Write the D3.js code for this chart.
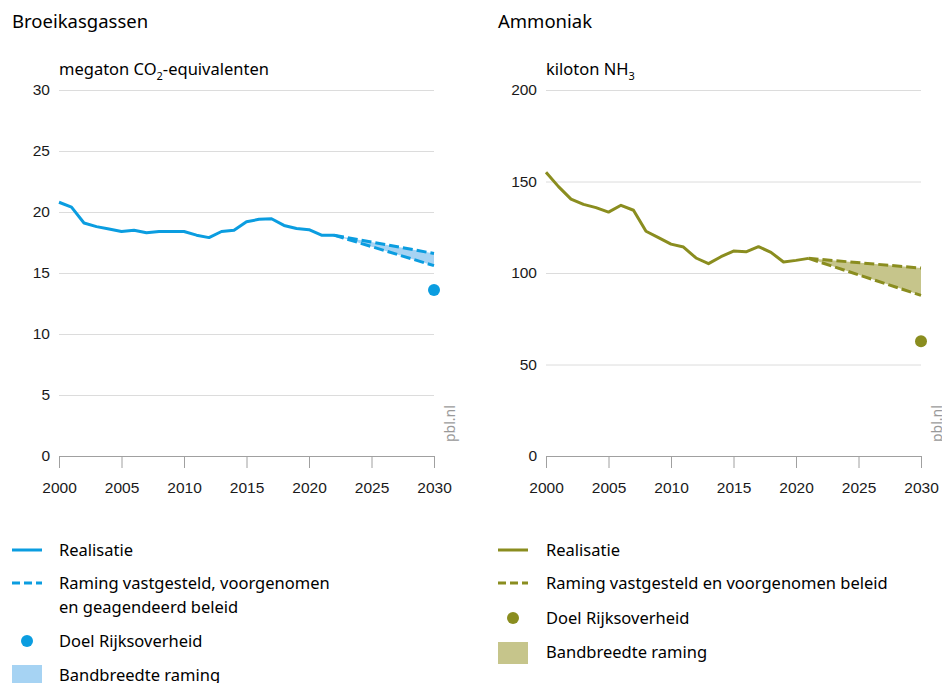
<!DOCTYPE html>
<html>
<head>
<meta charset="utf-8">
<script src="https://cdn.jsdelivr.net/npm/d3@7"></script>
<style>
  body { margin: 0; background: #fff; }
  svg { font-family: "Noto Sans", sans-serif; color: #1a1a1a; }
  .grid line { stroke: #dcdcdc; }
  .tick text { font-size: 15.5px; fill: #1a1a1a; }
</style>
</head>
<body>
<div id="chart"></div>
<script>
// greenhouse gases, megaton CO2-eq
var ghgYears = [2000, 2001, 2002, 2003, 2004, 2005, 2006, 2007, 2008, 2009, 2010, 2011,
                2012, 2013, 2014, 2015, 2016, 2017, 2018, 2019, 2020, 2021, 2022];
var ghgReal = [20.8, 20.4, 19.1, 18.8, 18.6, 18.4, 18.5, 18.3, 18.4, 18.4, 18.4, 18.1,
               17.9, 18.4, 18.5, 19.2, 19.4, 19.45, 18.9, 18.65, 18.55, 18.1, 18.1];
var ghgProjYears = [2022, 2030];
var ghgProjHigh = [18.1, 16.6];
var ghgProjLow = [18.1, 15.6];
var ghgGoal = {year: 2030, value: 13.6};
var ghgTicks = [0, 5, 10, 15, 20, 25, 30];

// ammonia, kiloton NH3
var nh3Years = [2000, 2001, 2002, 2003, 2004, 2005, 2006, 2007, 2008, 2009, 2010,
                2011, 2012, 2013, 2014, 2015, 2016, 2017, 2018, 2019, 2020, 2021];
var nh3Real = [155, 147.2, 140.4, 137.5, 135.7, 133.3, 137, 134.3, 122.8, 119.3, 115.8,
               114.2, 108.2, 105.1, 108.9, 112, 111.6, 114.4, 111.3, 106, 106.9, 108];
var nh3ProjYears = [2021, 2030];
var nh3ProjHigh = [108, 102.7];
var nh3ProjLow = [108, 87.8];
var nh3Goal = {year: 2030, value: 62.7};
var nh3Ticks = [0, 50, 100, 150, 200];

var xTicks = [2000, 2005, 2010, 2015, 2020, 2025, 2030];

var width = 942, height = 683;
var svg = d3.select("#chart").append("svg")
    .attr("width", width)
    .attr("height", height);

function drawPanel(p) {
  var g = svg.append("g");
  var x = d3.scaleLinear().domain([2000, 2030]).range([p.left, p.left + 375]);
  var y = d3.scaleLinear().domain([0, p.max]).range([456, 90]);

  g.append("text")
      .attr("x", p.titleX).attr("y", 28)
      .style("font-size", "18.5px")
      .text(p.title);

  var unit = g.append("text")
      .attr("x", p.left).attr("y", 75)
      .style("font-size", "16.5px");
  unit.append("tspan").text(p.unit[0]);
  unit.append("tspan").attr("dy", 5).style("font-size", "11px").text(p.unit[1]);
  if (p.unit[2]) unit.append("tspan").attr("dy", -5).text(p.unit[2]);

  // grid + y labels
  var yAxis = g.append("g").attr("class", "grid")
      .attr("transform", "translate(" + p.left + ",0)")
      .call(d3.axisLeft(y).tickValues(p.ticks).tickSize(-375).tickPadding(9));
  yAxis.select(".domain").remove();
  yAxis.selectAll(".tick").filter(d => d === 0).select("line").remove();

  var xAxis = g.append("g")
      .attr("transform", "translate(0,456)")
      .call(d3.axisBottom(x).tickValues(xTicks).tickFormat(d3.format("d"))
              .tickSize(12).tickSizeOuter(0).tickPadding(14));
  xAxis.select(".domain").attr("stroke", "#a0a0a0");
  xAxis.selectAll(".tick line").attr("stroke", "#a0a0a0");

  g.append("text")
      .attr("transform", "translate(" + (p.left + 396) + ",442) rotate(-90)")
      .style("font-size", "14px").attr("fill", "#999")
      .text("pbl.nl");

  var proj = p.projYears.map((yr, i) => ({year: yr, hi: p.projHigh[i], lo: p.projLow[i]}));

  g.append("path")
      .datum(proj)
      .attr("fill", p.band)
      .attr("d", d3.area().x(d => x(d.year)).y0(d => y(d.lo)).y1(d => y(d.hi)));

  ["hi", "lo"].forEach(function(k) {
    g.append("path")
        .datum(proj)
        .attr("fill", "none")
        .attr("stroke", p.color)
        .attr("stroke-width", 3)
        .attr("stroke-dasharray", "10,4")
        .attr("d", d3.line().x(d => x(d.year)).y(d => y(d[k])));
  });

  g.append("path")
      .datum(p.years.map((yr, i) => [yr, p.real[i]]))
      .attr("fill", "none")
      .attr("stroke", p.color)
      .attr("stroke-width", 3)
      .attr("stroke-linejoin", "round")
      .attr("d", d3.line().x(d => x(d[0])).y(d => y(d[1])));

  g.append("circle")
      .attr("cx", x(p.goal.year)).attr("cy", y(p.goal.value))
      .attr("r", 6).attr("fill", p.dot);

  // legend
  var lx = p.titleX, tx = p.left;
  var leg = g.append("g").style("font-size", "16.5px");
  p.legend.forEach(function(item) {
    var ly = item.y;
    if (item.type === "line" || item.type === "dash") {
      leg.append("line")
          .attr("x1", lx).attr("x2", lx + 30).attr("y1", ly).attr("y2", ly)
          .attr("stroke", p.color).attr("stroke-width", 3)
          .attr("stroke-dasharray", item.type === "dash" ? "8,4" : null);
    } else if (item.type === "dot") {
      leg.append("circle").attr("cx", lx + 15).attr("cy", ly).attr("r", 6).attr("fill", p.dot);
    } else {
      leg.append("rect").attr("x", lx).attr("y", ly - 10).attr("width", 30).attr("height", 22)
          .attr("fill", p.band);
    }
    item.text.forEach(function(t, i) {
      leg.append("text").attr("x", tx).attr("y", ly + 6 + i * 24).text(t);
    });
  });
}

drawPanel({
  title: "Broeikasgassen", titleX: 12, left: 59, max: 30, ticks: ghgTicks,
  unit: ["megaton CO", "2", "-equivalenten"],
  years: ghgYears, real: ghgReal,
  projYears: ghgProjYears, projHigh: ghgProjHigh, projLow: ghgProjLow, goal: ghgGoal,
  color: "#0b9de0", dot: "#0b9de0", band: "#a6d3f3",
  legend: [
    {type: "line", y: 550, text: ["Realisatie"]},
    {type: "dash", y: 583, text: ["Raming vastgesteld, voorgenomen", "en geagendeerd beleid"]},
    {type: "dot", y: 641, text: ["Doel Rijksoverheid"]},
    {type: "band", y: 675, text: ["Bandbreedte raming"]}
  ]
});

drawPanel({
  title: "Ammoniak", titleX: 498, left: 546, max: 200, ticks: nh3Ticks,
  unit: ["kiloton NH", "3"],
  years: nh3Years, real: nh3Real,
  projYears: nh3ProjYears, projHigh: nh3ProjHigh, projLow: nh3ProjLow, goal: nh3Goal,
  color: "#8a8d1f", dot: "#8a8d1f", band: "#c6c58b",
  legend: [
    {type: "line", y: 550, text: ["Realisatie"]},
    {type: "dash", y: 583, text: ["Raming vastgesteld en voorgenomen beleid"]},
    {type: "dot", y: 618, text: ["Doel Rijksoverheid"]},
    {type: "band", y: 652, text: ["Bandbreedte raming"]}
  ]
});
</script>
</body>
</html>
